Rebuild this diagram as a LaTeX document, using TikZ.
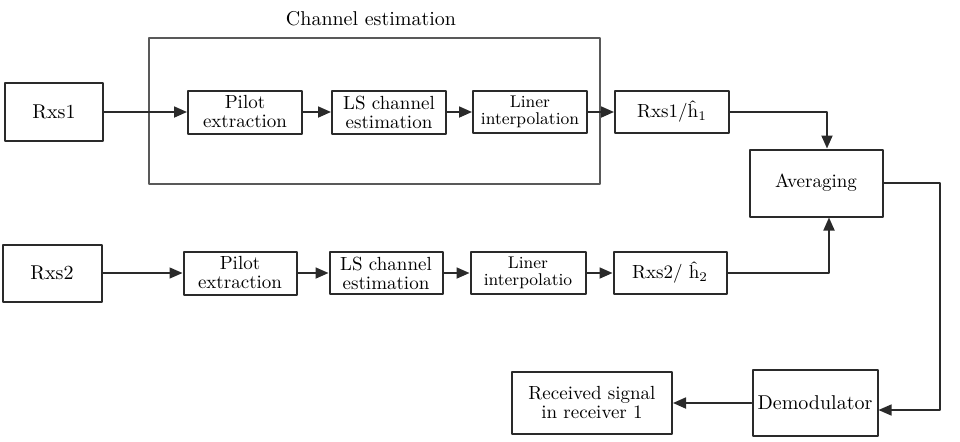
\documentclass[tikz,border=0pt]{standalone}
\usepackage{amsmath,amssymb}
\usetikzlibrary{arrows.meta}
\definecolor{boxcolor}{HTML}{2A2A2A}

\begin{document}
\begin{tikzpicture}[x=0.5pt,y=-0.5pt,line cap=round,line join=round,
    blk/.style={draw=boxcolor,line width=1pt,inner sep=1pt,align=center,font=\fontsize{9.5}{9.5}\selectfont},
    conn/.style={-{Triangle[length=6.5pt,width=5.5pt]},line width=0.9pt,boxcolor}]
  \useasboundingbox (0,0) rectangle (960,441);
  % channel estimation frame
  \node[draw=black!65,line width=0.7pt,minimum width=225.5pt,minimum height=73pt,inner sep=0pt] (chest) at (374.5,111) {};
  \node[font=\fontsize{10}{10}\selectfont] (chestlbl) at (371,19) {Channel estimation};
  % first receive antenna
  \node[blk,minimum width=49pt,minimum height=29pt,font=\fontsize{10}{10}\selectfont] (rx1) at (54,112) {Rxs1};
  \node[blk,minimum width=57pt,minimum height=21.5pt] (pil1) at (245,112) {Pilot\\extraction};
  \node[blk,minimum width=57pt,minimum height=21.5pt] (ls1) at (389,112) {LS channel\\estimation};
  \node[blk,minimum width=57pt,minimum height=21pt,font=\fontsize{8.5}{8.5}\selectfont] (lin1) at (530,112) {Liner\\interpolation};
  \node[blk,minimum width=57pt,minimum height=21pt] (rh1) at (672,112) {Rxs1/\^{h}\textsubscript{1}};
  % second receive antenna
  \node[blk,minimum width=49.5pt,minimum height=28.5pt,font=\fontsize{10}{10}\selectfont] (rx2) at (52,273) {Rxs2};
  \node[blk,minimum width=56.5pt,minimum height=21.5pt] (pil2) at (240,273) {Pilot\\extraction};
  \node[blk,minimum width=56.5pt,minimum height=21pt] (ls2) at (386,273) {LS channel\\estimation};
  \node[blk,minimum width=57.5pt,minimum height=21pt,font=\fontsize{8.5}{8.5}\selectfont] (lin2) at (528,273) {Liner\\interpolatio};
  \node[blk,minimum width=56.5pt,minimum height=21pt] (rh2) at (670,273) {Rxs2/ \^{h}\textsubscript{2}};
  % combining and detection
  \node[blk,minimum width=66.5pt,minimum height=33.5pt] (avg) at (816,183) {Averaging};
  \node[blk,minimum width=62.5pt,minimum height=33pt,font=\fontsize{10}{10}\selectfont] (demod) at (815,403) {Demodulator};
  \node[blk,minimum width=80pt,minimum height=31pt] (recv) at (592,403) {Received signal\\in receiver 1};
  \coordinate (turn) at (940,183);

  \draw[conn] (rx1) -- (pil1);
  \draw[conn] (pil1) -- (ls1);
  \draw[conn] (ls1) -- (lin1);
  \draw[conn] (lin1) -- (rh1);
  \draw[conn,line width=0.7pt] (rx2) -- (pil2);
  \draw[conn] (pil2) -- (ls2);
  \draw[conn] (ls2) -- (lin2);
  \draw[conn] (lin2) -- (rh2);
  \draw[conn] (rh1.east) -| ([xshift=5.5pt]avg.north);
  \draw[conn] (rh2.east) -| ([xshift=6.5pt]avg.south);
  \draw[conn,line width=0.7pt] (avg.east) -- (turn) |- ([yshift=-3.5pt]demod.east);
  \draw[conn] (demod) -- (recv);
\end{tikzpicture}
\end{document}
